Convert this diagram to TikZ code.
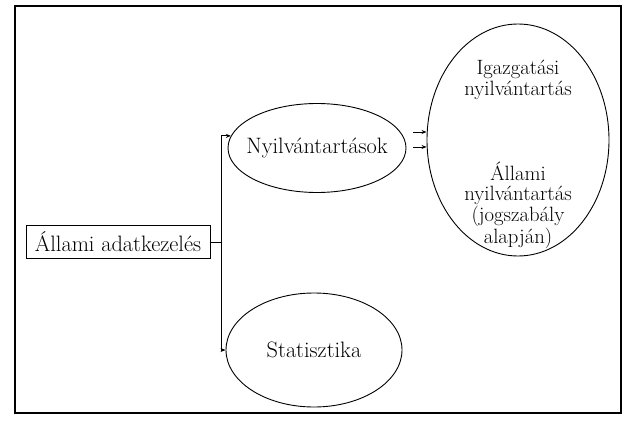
\documentclass[tikz,border=0pt]{standalone}
\usepackage{fontspec}
\usetikzlibrary{shapes.geometric,arrows.meta}
\begin{document}
\begin{tikzpicture}[x=1pt, y=-1pt, >={Stealth[length=5pt,width=4pt]}, line width=0.9pt,
    every node/.style={font=\fontsize{22.3}{24}\selectfont},
    oval/.style={draw, ellipse, inner sep=0pt},
    small/.style={font=\fontsize{20.7}{20.5}\selectfont, align=center}]
	\useasboundingbox (0,0) rectangle (626,423);
	
	% keret
	\draw[line width=1.2pt] (15,6) rectangle (621,413);
	
	% csomopontok
	\node[draw, minimum width=184pt, minimum height=33pt, inner sep=0pt] (adat) at (118,242) {Állami adatkezelés};
	\node[oval, minimum width=178pt, minimum height=89pt] (nyilv) at (317,148) {};
	\node (nyilvtext) at (nyilv) {Nyilvántartások};
	\node[oval, minimum width=176pt, minimum height=114pt] (stat) at (314,350) {};
	\node (stattext) at (stat) {Statisztika};
	\node[oval, minimum width=182pt, minimum height=232pt] (reg) at (518,140) {};
	\node[small] (igaz) at (518,80) {Igazgatási\\nyilvántartás};
	\node[small] (allami) at (518,205) {Állami\\nyilvántartás\\(jogszabály\\alapján)};
	
	% osszekotok
	\coordinate (br) at (221,242);
	\draw (adat.east) -- (br);
	\draw[->] (br) |- (nyilv.172);
	\draw[->] (br) |- (stat.west);
	
	\coordinate (a1) at (413,132);
	\coordinate (a2) at (413,147);
	\draw[->] (a1) -- (a1 -| reg.west);
	\draw[->] (a2) -- (a2 -| reg.west);
\end{tikzpicture}
\end{document}
